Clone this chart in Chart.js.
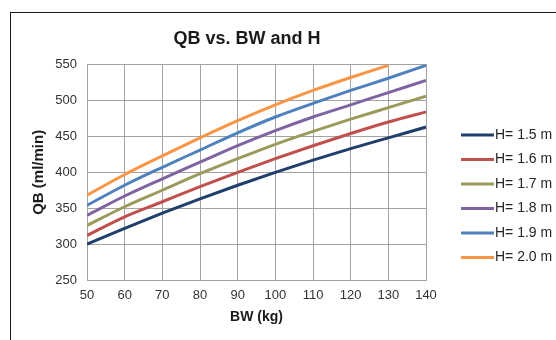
<!DOCTYPE html>
<html>
<head>
<meta charset="utf-8">
<script src="https://cdn.jsdelivr.net/npm/chart.js@4/dist/chart.umd.min.js"></script>
<style>
  body { margin: 0; background: #fff; overflow: hidden; }
  #wrap { position: relative; width: 556px; height: 340px; overflow: hidden; }
  #frame { position: absolute; left: 10px; top: 12px; width: 700px; height: 500px; border: 1px solid #1a1a1a; }
  #chart { position: absolute; left: 0; top: 0; }
</style>
</head>
<body>
<div id="wrap">
  <div id="frame"></div>
  <canvas id="chart" width="556" height="340"></canvas>
</div>
<script>
// body weight (kg) on the x axis
const bw = [50, 60, 70, 80, 90, 100, 110, 120, 130, 140];

// QB (ml/min) for each height
const h15 = [300, 322, 343, 363, 382, 400, 417, 433, 448, 463];
const h16 = [312, 338, 359, 380, 400, 419, 437, 454, 470, 484];
const h17 = [326, 352, 375, 398, 419, 439, 457, 474, 490, 506];
const h18 = [340, 367, 391, 414, 437, 458, 477, 494, 511, 528];
const h19 = [354, 382, 407, 431, 455, 477, 496, 514, 531, 549];
const h20 = [368, 397, 423, 448, 472, 494, 514, 532, 549, null];

const labels = ["H= 1.5 m", "H= 1.6 m", "H= 1.7 m", "H= 1.8 m", "H= 1.9 m", "H= 2.0 m"];
const colors = ["#1f3e6b", "#c0504d", "#9a9a5c", "#8064a2", "#4f81bd", "#f79646"];
const series = [h15, h16, h17, h18, h19, h20];

Chart.defaults.font.family = "'Liberation Sans', Arial, sans-serif";
Chart.defaults.color = "#333";

const gridColor = "#a3a3a3";

// legend drawn at the right, like the original
const sideLegend = {
  id: "sideLegend",
  afterDraw(chart) {
    const ctx = chart.ctx;
    ctx.save();
    ctx.font = "14px 'Liberation Sans', Arial, sans-serif";
    ctx.textBaseline = "middle";
    ctx.fillStyle = "#262626";
    chart.data.datasets.forEach((ds, i) => {
      const y = 135 + i * 24.5;
      ctx.strokeStyle = ds.borderColor;
      ctx.lineWidth = 3;
      ctx.beginPath();
      ctx.moveTo(461, y);
      ctx.lineTo(494, y);
      ctx.stroke();
      ctx.fillText(ds.label, 495, y);
    });
    ctx.restore();
  }
};

new Chart(document.getElementById("chart"), {
  type: "line",
  data: {
    labels: bw,
    datasets: series.map((s, i) => ({
      label: labels[i],
      data: s.map((v, j) => ({ x: bw[j], y: v })),
      borderColor: colors[i],
      backgroundColor: colors[i],
      borderWidth: 3,
      pointRadius: 0,
      cubicInterpolationMode: "monotone",
      fill: false,
      clip: 0
    }))
  },
  options: {
    responsive: false,
    animation: false,
    devicePixelRatio: 1,
    layout: { padding: { left: 0, right: 62, top: 0, bottom: 0 } },
    plugins: {
      legend: { display: false },
      tooltip: { enabled: false },
      title: {
        display: true,
        text: "QB vs. BW and H",
        color: "#1a1a1a",
        font: { size: 18, weight: "bold" },
        padding: { top: 28, bottom: 15 }
      }
    },
    scales: {
      x: {
        type: "linear",
        min: 50,
        max: 140,
        ticks: { stepSize: 10, padding: 8, font: { size: 13 }, color: "#333" },
        grid: { color: gridColor, drawTicks: false },
        border: { color: gridColor },
        title: {
          display: true,
          text: "BW (kg)",
          color: "#1a1a1a",
          font: { size: 14, weight: "bold" },
          padding: { top: 0, bottom: 14 }
        },
        afterFit(s) { s.height = 60; }
      },
      y: {
        type: "linear",
        min: 250,
        max: 550,
        ticks: { stepSize: 50, padding: 10, font: { size: 13 }, color: "#333" },
        grid: { color: gridColor, drawTicks: false },
        border: { color: gridColor },
        title: {
          display: true,
          text: "QB (ml/min)",
          color: "#1a1a1a",
          font: { size: 15, weight: "bold" },
          padding: { top: 30, bottom: 0 }
        },
        afterFit(s) { s.width = 87; }
      },
      side: {
        type: "linear",
        position: "right",
        min: 250,
        max: 550,
        ticks: { display: false },
        grid: { display: false, drawTicks: false },
        border: { display: true, color: gridColor },
        afterFit(s) { s.width = 68; }
      }
    }
  },
  plugins: [sideLegend]
});
</script>
</body>
</html>
